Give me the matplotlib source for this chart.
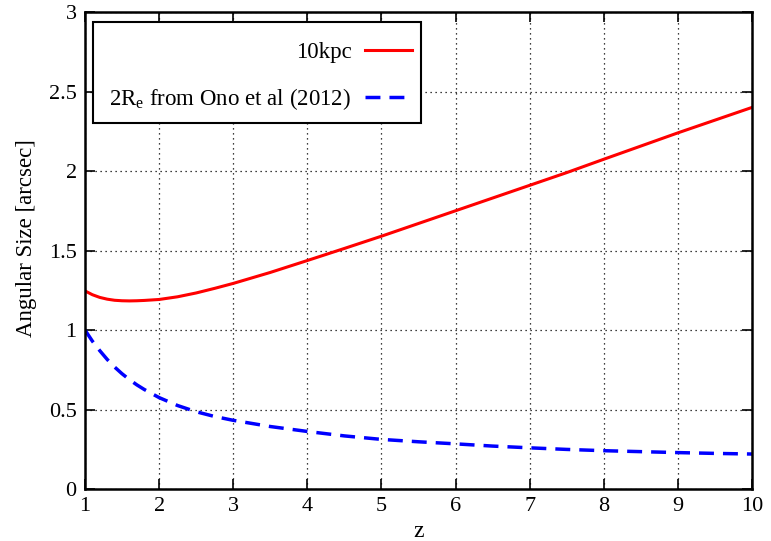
import numpy as np
import matplotlib.pyplot as plt
from matplotlib.patches import Rectangle

# redshift samples
z = [1.0, 1.1, 1.2, 1.3, 1.4, 1.5, 1.6, 1.7, 1.8, 2.0, 2.25, 2.5, 2.75,
     3.0, 3.5, 4.0, 4.5, 5.0, 5.5, 6.0, 6.5, 7.0, 7.5, 8.0, 8.5, 9.0,
     9.5, 10.0]
size_10kpc = [1.246, 1.222, 1.205, 1.194, 1.187, 1.184, 1.183, 1.184, 1.186,
              1.192, 1.209, 1.233, 1.262, 1.293, 1.362, 1.437, 1.513, 1.59,
              1.67, 1.75, 1.83, 1.91, 1.99, 2.074, 2.157, 2.24, 2.32, 2.40]
size_ono = [1.0, 0.93, 0.87, 0.815, 0.767, 0.725, 0.688, 0.655, 0.626,
            0.575, 0.525, 0.486, 0.456, 0.432, 0.393, 0.362, 0.334, 0.312,
            0.297, 0.284, 0.27, 0.259, 0.249, 0.241, 0.235, 0.229, 0.224,
            0.22]

xticks = [1, 2, 3, 4, 5, 6, 7, 8, 9, 10]
yticks = [0, 0.5, 1, 1.5, 2, 2.5, 3]
ytick_labels = ["0", "0.5", "1", "1.5", "2", "2.5", "3"]

plt.rcParams["font.family"] = ["Liberation Serif", "DejaVu Serif"]
plt.rcParams["mathtext.fontset"] = "custom"
plt.rcParams["mathtext.rm"] = "Liberation Serif"
plt.rcParams["mathtext.it"] = "Liberation Serif"

fig = plt.figure(figsize=(7.71, 5.41), dpi=100)
ax = fig.add_axes([0.1102, 0.0961, 0.8652, 0.8817])

ax.plot(z, size_10kpc, color="#ff0000", lw=2.2, label="10kpc")
ax.plot(z, size_ono, color="#0000ff", lw=2.5, ls=(0, (4.3, 2.6)),
        label=r"2R$_{\mathrm{e}}$ from Ono et al (2012)")

ax.set_xlim(1, 10)
ax.set_ylim(0, 3)
ax.set_xticks(xticks)
ax.set_yticks(yticks)
ax.set_yticklabels(ytick_labels)
ax.tick_params(direction="in", length=7, width=1.2, top=True, right=True,
               labelsize=16, pad=6)
for s in ax.spines.values():
    s.set_linewidth(1.8)
ax.grid(True, color="black", ls=(0, (1, 3)), lw=0.9)

ax.set_xlabel("z", fontsize=17, labelpad=3)
ax.set_ylabel("Angular Size [arcsec]", fontsize=16.5)
ax.yaxis.set_label_coords(-0.072, 0.526)

# gnuplot-style key box: drawn separately so the padding can be uneven
key_box = Rectangle((0.012, 0.767), 0.492, 0.212, transform=ax.transAxes,
                    facecolor="white", edgecolor="black", lw=1.5, zorder=4.5)
ax.add_patch(key_box)
leg = ax.legend(loc="upper right", bbox_to_anchor=(0.4903, 0.937),
                markerfirst=False, fontsize=16.5, frameon=False,
                handlelength=2.05, labelspacing=0.99, borderpad=0,
                handletextpad=0.6, borderaxespad=0)

fig.savefig("out.png", dpi=100)
